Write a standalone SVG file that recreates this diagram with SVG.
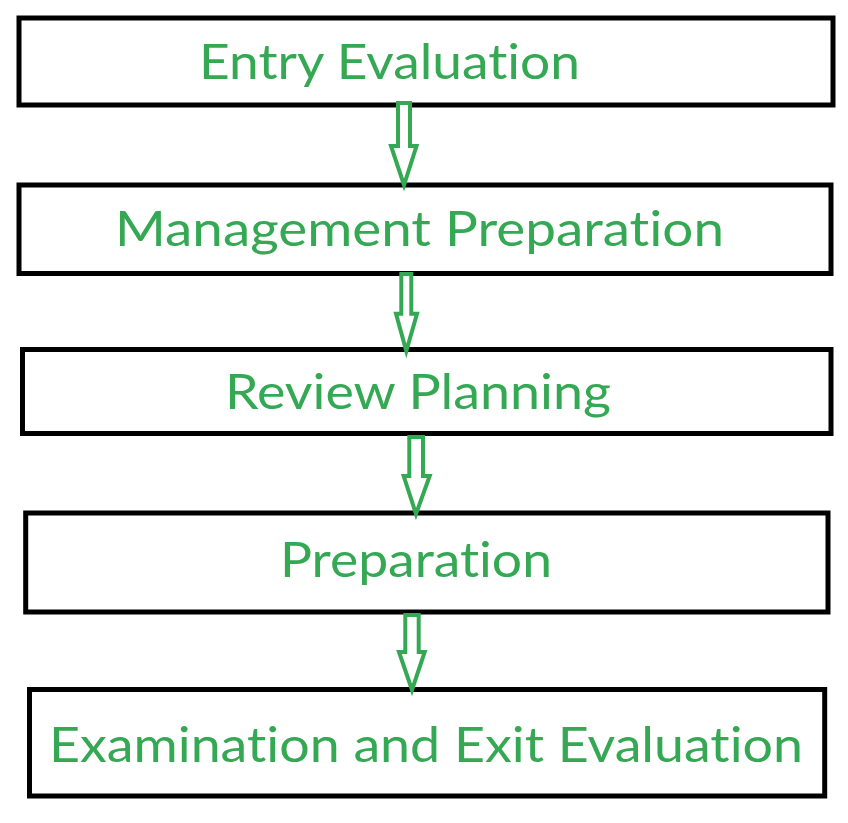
<svg xmlns="http://www.w3.org/2000/svg" width="848" height="823" viewBox="0 0 848 823">
<style>
.box{fill:#ffffff;stroke:#000000;stroke-width:5}
.lbl{font-family:Lato,"Open Sans","Liberation Sans",sans-serif;font-size:48px;fill:#34a853;font-variant-ligatures:none;font-feature-settings:"liga" 0}
.arr{fill:#ffffff;stroke:#34a853;stroke-width:4;stroke-linejoin:miter}
</style>
<rect width="848" height="823" fill="#ffffff"/>
<g id="n1"><rect class="box" x="19" y="18" width="814" height="87"/><text class="lbl" x="199" y="79" textLength="381" lengthAdjust="spacingAndGlyphs">Entry Evaluation</text></g>
<g id="n2"><rect class="box" x="19" y="185" width="812" height="88.5"/><text class="lbl" x="115" y="246" textLength="609" lengthAdjust="spacingAndGlyphs">Management Preparation</text></g>
<g id="n3"><rect class="box" x="22.5" y="349.5" width="808.5" height="84"/><text class="lbl" x="225" y="409" textLength="386" lengthAdjust="spacingAndGlyphs">Review Planning</text></g>
<g id="n4"><rect class="box" x="25.7" y="513" width="802.3" height="99"/><text class="lbl" x="280" y="577" textLength="272" lengthAdjust="spacingAndGlyphs">Preparation</text></g>
<g id="n5"><rect class="box" x="29.5" y="689.5" width="795.2" height="106.5"/><text class="lbl" x="49" y="762" textLength="754" lengthAdjust="spacingAndGlyphs">Examination and Exit Evaluation</text></g>
<g id="connectors">
<polygon class="arr" points="398,103 410,103 410,146 416.5,146 404,185 391,146 398,146"/>
<polygon class="arr" points="401.3,274 411.3,274 411.3,313.7 417,313.7 406.3,351 396,313.7 401.3,313.7"/>
<polygon class="arr" points="409.3,437 423,437 423,476 429.7,476 416,514 403.7,476 409.3,476"/>
<polygon class="arr" points="405.3,615 418.7,615 418.7,652 424.7,652 412,690 399,652 405.3,652"/>
</g>
</svg>
